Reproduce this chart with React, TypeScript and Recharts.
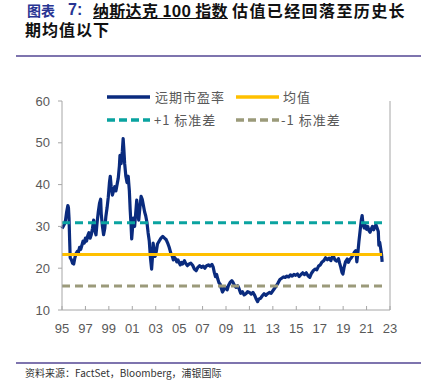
import React from 'react';
import { ComposedChart, Line, XAxis, YAxis } from 'recharts';

// Decimal year of each observation
const years = [
  1995.0, 1995.1, 1995.2, 1995.3, 1995.4, 1995.5, 1995.55, 1995.6, 1995.65, 1995.7,
  1995.8, 1995.9, 1996.0, 1996.1, 1996.2, 1996.3, 1996.4, 1996.5, 1996.6, 1996.7,
  1996.8, 1996.9, 1997.0, 1997.1, 1997.2, 1997.3, 1997.4, 1997.5, 1997.6, 1997.7,
  1997.8, 1997.9, 1998.0, 1998.1, 1998.2, 1998.3, 1998.35, 1998.45, 1998.55, 1998.65,
  1998.75, 1998.85, 1998.95, 1999.05, 1999.12, 1999.2, 1999.3, 1999.4, 1999.5, 1999.6,
  1999.7, 1999.8, 1999.9, 1999.95, 2000.0, 2000.05, 2000.15, 2000.22, 2000.28, 2000.35,
  2000.45, 2000.55, 2000.65, 2000.75, 2000.82, 2000.9, 2000.95, 2001.02, 2001.1, 2001.2,
  2001.3, 2001.38, 2001.45, 2001.55, 2001.65, 2001.75, 2001.85, 2001.95, 2002.05, 2002.15,
  2002.25, 2002.35, 2002.45, 2002.55, 2002.65, 2002.72, 2002.78, 2002.85, 2002.95, 2003.05,
  2003.15, 2003.3, 2003.45, 2003.6, 2003.75, 2003.9, 2004.05, 2004.15, 2004.3, 2004.4,
  2004.5, 2004.6, 2004.7, 2004.8, 2004.9, 2005.0, 2005.1, 2005.2, 2005.3, 2005.45,
  2005.55, 2005.7, 2005.85, 2006.0, 2006.15, 2006.3, 2006.45, 2006.6, 2006.75, 2006.9,
  2007.05, 2007.2, 2007.35, 2007.5, 2007.65, 2007.8, 2007.9, 2008.0, 2008.1, 2008.2,
  2008.3, 2008.4, 2008.5, 2008.6, 2008.7, 2008.8, 2008.9, 2009.0, 2009.1, 2009.2,
  2009.35, 2009.5, 2009.6, 2009.7, 2009.85, 2010.0, 2010.1, 2010.25, 2010.4, 2010.55,
  2010.7, 2010.85, 2011.0, 2011.15, 2011.3, 2011.45, 2011.6, 2011.7, 2011.8, 2011.95,
  2012.1, 2012.25, 2012.4, 2012.55, 2012.7, 2012.85, 2013.0, 2013.15, 2013.3, 2013.45,
  2013.6, 2013.75, 2013.9, 2014.05, 2014.2, 2014.35, 2014.5, 2014.65, 2014.8, 2014.95,
  2015.1, 2015.25, 2015.4, 2015.55, 2015.7, 2015.85, 2016.0, 2016.15, 2016.3, 2016.45,
  2016.6, 2016.75, 2016.9, 2017.05, 2017.2, 2017.35, 2017.5, 2017.65, 2017.8, 2017.95,
  2018.05, 2018.15, 2018.3, 2018.45, 2018.6, 2018.7, 2018.8, 2018.9, 2018.98, 2019.08,
  2019.2, 2019.35, 2019.45, 2019.55, 2019.7, 2019.85, 2019.95, 2020.08, 2020.17, 2020.25,
  2020.35, 2020.45, 2020.55, 2020.62, 2020.7, 2020.8, 2020.9, 2021.0, 2021.1, 2021.2,
  2021.3, 2021.4, 2021.5, 2021.6, 2021.7, 2021.8, 2021.9, 2022.0, 2022.05, 2022.12,
  2022.2, 2022.28, 2022.33,
];

// Forward P/E of the Nasdaq 100
const forwardPE = [
  29.5, 30.0, 30.5, 31.5, 33.5, 35.0, 34.5, 32.0, 27.0, 22.5,
  22.0, 21.2, 21.0, 22.5, 23.5, 24.0, 23.8, 25.0, 24.5, 25.5,
  26.5, 26.0, 27.2, 26.5, 27.8, 28.5, 27.2, 28.0, 29.5, 31.5,
  29.0, 28.0, 31.0, 33.5, 35.5, 36.5, 33.0, 30.0, 28.0, 29.5,
  32.5, 34.5, 37.0, 40.5, 42.0, 39.5, 37.5, 38.5, 39.5, 38.5,
  40.0, 41.5, 44.5, 47.0, 46.0, 45.0, 48.0, 51.0, 48.5, 45.0,
  42.0, 40.5, 42.0, 38.5, 34.0, 30.0, 27.0, 29.5, 32.0, 30.0,
  33.5, 36.3, 34.0, 31.5, 34.5, 37.2, 36.5, 35.0, 33.5, 32.5,
  31.0, 28.5, 26.5, 22.5, 19.8, 22.5, 26.0, 24.5, 22.8, 24.0,
  25.8, 26.5, 27.2, 27.6, 27.2, 26.8, 25.8, 25.0, 23.5, 23.0,
  22.0, 22.6, 22.2, 21.5, 22.0, 21.3, 20.8, 21.4, 21.0, 21.8,
  21.2, 20.6, 21.0, 21.2, 20.7, 19.8, 19.4, 20.2, 20.6, 20.2,
  20.5, 20.0, 20.6, 20.8, 20.5, 20.9, 20.3, 19.0, 18.0, 18.5,
  17.4, 16.5, 16.2, 15.2, 14.3, 14.8, 15.6, 15.2, 14.8, 15.8,
  16.6, 17.0, 16.6, 16.0, 15.4, 15.8, 15.2, 14.0, 14.4, 13.6,
  13.9, 14.4, 14.2, 13.8, 14.2, 13.5, 12.5, 12.0, 12.6, 12.8,
  13.4, 13.9, 13.5, 13.9, 14.2, 14.0, 14.6, 15.2, 15.8, 16.5,
  17.3, 17.6, 17.9, 17.8, 18.1, 17.9, 18.4, 18.1, 18.5, 18.3,
  18.6, 18.0, 18.5, 18.9, 18.5, 18.9, 18.2, 17.8, 18.8, 19.4,
  19.8, 19.6, 20.5, 20.8, 21.5, 21.8, 22.5, 22.0, 22.4, 21.8,
  22.6, 23.0, 22.0, 21.7, 22.3, 21.2, 20.2, 19.0, 18.6, 20.2,
  21.5, 22.2, 21.4, 22.0, 22.5, 23.2, 23.8, 24.2, 21.5, 23.5,
  26.5, 29.0, 31.5, 32.6, 30.5, 29.6, 30.2, 29.3, 30.0, 29.0,
  28.6, 29.4, 30.0, 29.2, 29.8, 30.4, 29.6, 28.8, 25.5, 26.2,
  24.8, 23.2, 21.5,
];

const meanPE = 23.3;
const stdPE = 7.55;

const xTicks = [1995, 1997, 1999, 2001, 2003, 2005, 2007, 2009, 2011, 2013, 2015, 2017, 2019, 2021, 2023];
const yTicks = [10, 20, 30, 40, 50, 60];

const seriesNames = ['远期市盈率', '均值', '+1 标准差', '-1 标准差'];

const NAVY = '#0a2b7e';
const GOLD = '#ffc000';
const TEAL = '#0aa3a0';
const OLIVE = '#9b9a7a';
const AXIS = '#a6a6a6';
const TICK = '#595959';

const data = years.map((t, i) => ({
  t,
  pe: forwardPE[i],
  mean: meanPE,
  up: meanPE + stdPE,
  down: meanPE - stdPE,
}));

const XTick = (props: any) => {
  const { x, y, payload } = props;
  const label = String(payload.value % 100).padStart(2, '0');
  return (
    <g>
      <line x1={x} x2={x} y1={y} y2={y - 4} stroke={AXIS} strokeWidth={1} />
      <text x={x} y={y + 23} textAnchor="middle" fill={TICK} fontSize={13} fontFamily="Liberation Sans, Arial, sans-serif">
        {label}
      </text>
    </g>
  );
};

const Swatch = ({ color, dashed }: { color: string; dashed?: boolean }) => (
  <svg width={43} height={6} style={{ display: 'block' }}>
    <line x1={0} x2={43} y1={3} y2={3} stroke={color} strokeWidth={3.5}
      strokeDasharray={dashed ? '8 4' : undefined} />
  </svg>
);

const legendText: React.CSSProperties = {
  position: 'absolute',
  fontSize: 13,
  color: TICK,
  letterSpacing: 1,
  fontFamily: 'Noto Sans CJK SC, sans-serif',
  lineHeight: '16px',
  whiteSpace: 'nowrap',
};

const titleBase: React.CSSProperties = {
  position: 'absolute',
  top: 1,
  fontWeight: 700,
  lineHeight: '18px',
  whiteSpace: 'nowrap',
};

export default function App() {
  return (
    <div style={{ position: 'absolute', left: 0, top: 0, width: 443, height: 382, background: '#fff', overflow: 'hidden', fontFamily: 'Noto Sans CJK SC, sans-serif' }}>
      {/* Title */}
      <div style={{ ...titleBase, left: 27, fontSize: 14, color: '#283593' }}>图表</div>
      <div style={{ ...titleBase, left: 68, fontSize: 16, color: '#283593', fontFamily: 'Liberation Sans, Arial, sans-serif' }}>7:</div>
      <div style={{ ...titleBase, left: 93, fontSize: 16, color: '#111', textDecoration: 'underline', letterSpacing: 0.3 }}>纳斯达克 100 指数</div>
      <div style={{ ...titleBase, left: 232, fontSize: 16, color: '#111', letterSpacing: 1.4 }}>估值已经回落至历史长</div>
      <div style={{ ...titleBase, left: 25, top: 20, fontSize: 16, color: '#111', letterSpacing: 1 }}>期均值以下</div>
      <div style={{ position: 'absolute', left: 16, top: 55, width: 405, height: 1.5, background: '#7e74ae' }} />

      {/* Chart */}
      <div style={{ position: 'absolute', left: 0, top: 0 }}>
        <ComposedChart width={443} height={345} data={data} margin={{ top: 101, right: 8, bottom: 0, left: 12 }}>
          <XAxis
            dataKey="t"
            type="number"
            domain={[1995, 2023]}
            ticks={xTicks}
            interval={0}
            height={35}
            tickSize={0}
            tickMargin={0}
            tickLine={false}
            axisLine={{ stroke: AXIS }}
            tick={<XTick />}
          />
          <YAxis
            yAxisId="l"
            domain={[10, 60]}
            ticks={yTicks}
            interval={0}
            width={50}
            tickSize={4}
            tickMargin={8}
            axisLine={{ stroke: AXIS }}
            tickLine={{ stroke: AXIS }}
            tick={{ fill: TICK, fontSize: 13, fontFamily: 'Liberation Sans, Arial, sans-serif' }}
          />
          <YAxis
            yAxisId="r"
            orientation="right"
            domain={[10, 60]}
            ticks={yTicks}
            interval={0}
            width={45}
            tickSize={4}
            tickMargin={9}
            axisLine={{ stroke: AXIS }}
            tickLine={{ stroke: AXIS }}
            tick={{ fill: TICK, fontSize: 13, fontFamily: 'Liberation Sans, Arial, sans-serif', textAnchor: 'start' }}
          />
          <Line yAxisId="l" dataKey="pe" name={seriesNames[0]} stroke={NAVY} strokeWidth={3.2} dot={false} isAnimationActive={false} strokeLinejoin="round" />
          <Line yAxisId="l" dataKey="mean" name={seriesNames[1]} stroke={GOLD} strokeWidth={3} dot={false} isAnimationActive={false} />
          <Line yAxisId="l" dataKey="up" name={seriesNames[2]} stroke={TEAL} strokeWidth={3} strokeDasharray="8 5" dot={false} isAnimationActive={false} />
          <Line yAxisId="l" dataKey="down" name={seriesNames[3]} stroke={OLIVE} strokeWidth={3} strokeDasharray="8 5" dot={false} isAnimationActive={false} />
        </ComposedChart>
      </div>

      {/* Legend */}
      <div style={{ position: 'absolute', left: 107, top: 94 }}><Swatch color={NAVY} /></div>
      <div style={{ ...legendText, left: 155, top: 89 }}>{seriesNames[0]}</div>
      <div style={{ position: 'absolute', left: 236, top: 94 }}><Swatch color={GOLD} /></div>
      <div style={{ ...legendText, left: 283, top: 89 }}>{seriesNames[1]}</div>
      <div style={{ position: 'absolute', left: 107, top: 117 }}><Swatch color={TEAL} dashed /></div>
      <div style={{ ...legendText, left: 154, top: 112 }}>{seriesNames[2]}</div>
      <div style={{ position: 'absolute', left: 236, top: 117 }}><Swatch color={OLIVE} dashed /></div>
      <div style={{ ...legendText, left: 281, top: 112 }}>{seriesNames[3]}</div>

      {/* Footer */}
      <div style={{ position: 'absolute', left: 16, top: 362, width: 405, height: 1.5, background: '#7e74ae' }} />
      <div style={{ position: 'absolute', left: 25, top: 366, fontSize: 10, color: '#333', lineHeight: '14px', whiteSpace: 'nowrap' }}>资料来源：FactSet，Bloomberg，浦银国际</div>
    </div>
  );
}
